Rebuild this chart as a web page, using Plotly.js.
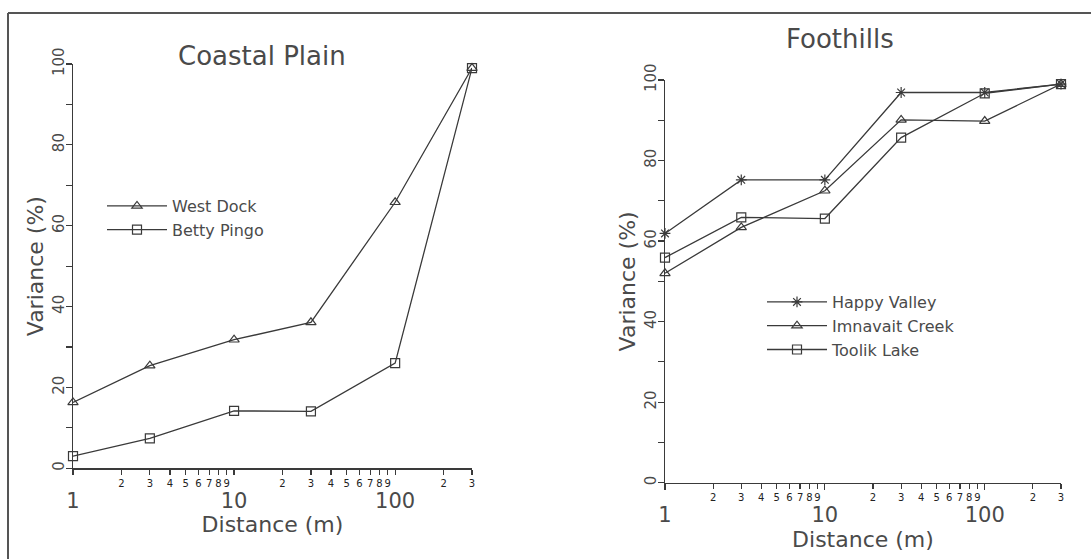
<!DOCTYPE html>
<html>
<head>
<meta charset="utf-8">
<script src="https://cdn.plot.ly/plotly-3.0.1.min.js"></script>
<style>
  html, body { margin: 0; padding: 0; background: #fff; }
  #chart { width: 1091px; height: 559px; }
</style>
</head>
<body>
<div id="chart"></div>
<script>
// ---- data ----
var distance = [1, 3, 10, 30, 100, 300];

// Coastal Plain
var westDock   = [16.3, 25.4, 31.8, 36.1, 65.8, 99];
var bettyPingo = [3.0, 7.4, 14.2, 14.1, 26.0, 99];

// Foothills
var happyValley   = [61.9, 75.2, 75.2, 96.9, 96.9, 99];
var imnavaitCreek = [52.0, 63.4, 72.5, 90.1, 89.8, 99];
var toolikLake    = [55.9, 65.9, 65.6, 85.7, 96.7, 99];

// tick labels
var minorTickVals = [2,3,4,5,6,7,8,9,20,30,40,50,60,70,80,90,200,300];
var minorTickText = ["2","3","4","5","6","7","8","9","2","3","4","5","6","7","8","9","2","3"];
var majorTickVals = [1, 10, 100];
var majorTickText = ["1", "10", "100"];

var panelTitles = ["Coastal Plain", "Foothills"];
var xTitle = "Distance (m)";
var yTitle = "Variance (%)";

// ---- styling ----
var W = 1091, H = 559;
var INK = "#3a3a3a";
var TXT = "#4a4a4a";
var FONT = "DejaVu Sans, sans-serif";

function px(x) { return x / W; }
function py(y) { return 1 - y / H; }

function trace(y, name, symbol, xa, ya, leg) {
  return {
    x: distance, y: y, name: name, type: "scatter", mode: "lines+markers",
    xaxis: xa, yaxis: ya, legend: leg,
    line: { color: INK, width: 1.3 },
    marker: { symbol: symbol, size: 9, color: INK, line: { color: INK, width: 1.2 } },
    cliponaxis: false
  };
}

// the two x axes of a panel share domain, range and type; one carries the small digit
// labels (2..9), the other the decade labels and the title
var data = [
  trace(westDock, "West Dock", "triangle-up-open", "x3", "y", "legend"),
  trace(bettyPingo, "Betty Pingo", "square-open", "x", "y", "legend"),
  trace(happyValley, "Happy Valley", "asterisk-open", "x4", "y2", "legend2"),
  trace(imnavaitCreek, "Imnavait Creek", "triangle-up-open", "x2", "y2", "legend2"),
  trace(toolikLake, "Toolik Lake", "square-open", "x2", "y2", "legend2")
];

var xRange = [0, Math.log10(300)];

function minorX(domain, anchor) {
  return {
    type: "log", range: xRange, domain: domain, anchor: anchor,
    tickmode: "array", tickvals: minorTickVals, ticktext: minorTickText, tickangle: 0,
    tickfont: { family: FONT, size: 10, color: "#222" },
    ticks: "outside", ticklen: 5, tickwidth: 1.2, tickcolor: INK,
    showline: true, linecolor: INK, linewidth: 1.4,
    showgrid: false, zeroline: false, automargin: false, fixedrange: true
  };
}
function majorX(domain, anchor, overlay) {
  return {
    type: "log", range: xRange, domain: domain, anchor: anchor, overlaying: overlay,
    tickmode: "array", tickvals: majorTickVals, ticktext: majorTickText, tickangle: 0,
    tickfont: { family: FONT, size: 21, color: TXT },
    ticks: "outside", ticklen: 6, tickwidth: 1.2, tickcolor: INK,
    ticklabelstandoff: 7,
    showline: false, showgrid: false, zeroline: false, automargin: false, fixedrange: true,
    title: { text: xTitle, font: { family: FONT, size: 22, color: TXT }, standoff: 0 }
  };
}
function yAxis(domain, anchor) {
  return {
    range: [0, 100], domain: domain, anchor: anchor,
    tickmode: "linear", tick0: 0, dtick: 20,
    minor: { dtick: 10, ticks: "outside", ticklen: 6, tickcolor: INK, tickwidth: 1.2 },
    tickangle: -90, ticklabelstandoff: -4,
    tickfont: { family: FONT, size: 15, color: TXT },
    ticks: "outside", ticklen: 6, tickwidth: 1.2, tickcolor: INK,
    showline: true, linecolor: INK, linewidth: 1.4,
    showgrid: false, zeroline: false, automargin: false, fixedrange: true,
    title: { text: yTitle, font: { family: FONT, size: 22, color: TXT }, standoff: 0 }
  };
}

var leftX = [px(73), px(472)];
var leftY = [py(468.3), py(64)];
var rightX = [px(665), px(1061)];
var rightY = [py(482.7), py(80)];

var legendFont = { family: FONT, size: 16, color: TXT };

var layout = {
  width: W, height: H,
  margin: { l: 0, r: 0, t: 0, b: 0 },
  paper_bgcolor: "#fff", plot_bgcolor: "rgba(0,0,0,0)",
  showlegend: true,
  xaxis: minorX(leftX, "y"),
  yaxis: yAxis(leftY, "x"),
  xaxis2: minorX(rightX, "y2"),
  yaxis2: yAxis(rightY, "x2"),
  xaxis3: majorX(leftX, "y", "x"),
  xaxis4: majorX(rightX, "y2", "x2"),
  legend: {
    x: px(102), y: py(189), xanchor: "left", yanchor: "top",
    bgcolor: "rgba(0,0,0,0)", borderwidth: 0, itemwidth: 60, tracegroupgap: 0,
    font: legendFont
  },
  legend2: {
    x: px(762), y: py(285), xanchor: "left", yanchor: "top",
    bgcolor: "rgba(0,0,0,0)", borderwidth: 0, itemwidth: 60, tracegroupgap: 0,
    font: legendFont
  },
  annotations: [
    { text: panelTitles[0], xref: "paper", yref: "paper", x: px(262), y: py(56),
      xanchor: "center", yanchor: "middle", showarrow: false,
      font: { family: FONT, size: 26, color: TXT } },
    { text: panelTitles[1], xref: "paper", yref: "paper", x: px(840), y: py(39),
      xanchor: "center", yanchor: "middle", showarrow: false,
      font: { family: FONT, size: 26, color: TXT } }
  ],
  shapes: [
    { type: "line", xref: "paper", yref: "paper", x0: px(8), x1: px(8), y0: py(13), y1: 0,
      line: { color: "#555", width: 2 } },
    { type: "line", xref: "paper", yref: "paper", x0: px(8), x1: 1, y0: py(13), y1: py(13),
      line: { color: "#555", width: 2 } }
  ],
  hovermode: false
};

Plotly.newPlot("chart", data, layout, { displayModeBar: false, staticPlot: true });
</script>
</body>
</html>
